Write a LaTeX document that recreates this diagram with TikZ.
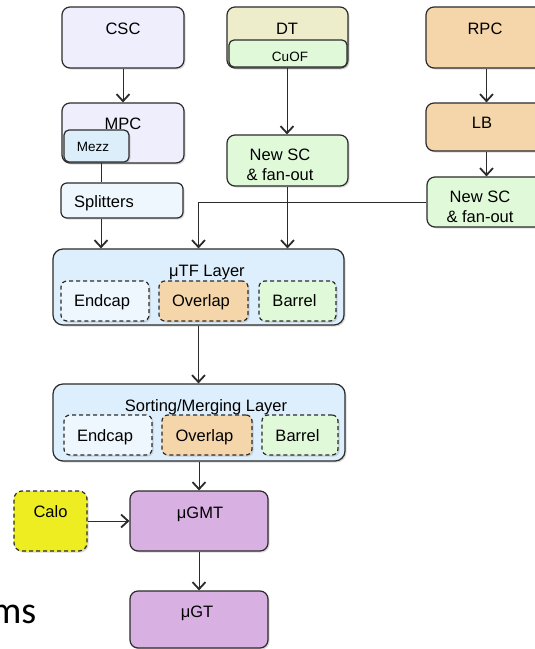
\documentclass[tikz,border=0pt]{standalone}
\usepackage{fontspec}
\setmainfont{Liberation Sans}
\newfontfamily\calibrifont{Carlito}
\usetikzlibrary{arrows.meta,shadows}
\definecolor{lineC}{HTML}{2B2B2B}
\definecolor{cscF}{HTML}{EEEEFD}
\definecolor{mezzF}{HTML}{DDEEFB}
\definecolor{splF}{HTML}{EEF6FE}
\definecolor{dtF}{HTML}{EEEDCB}
\definecolor{grnF}{HTML}{E0F9D9}
\definecolor{orgF}{HTML}{F5D6AA}
\definecolor{layF}{HTML}{DDEEFC}
\definecolor{purF}{HTML}{D8B1E2}
\definecolor{calF}{HTML}{EDED22}
\tikzset{
  box/.style={draw=lineC, line width=1.2pt, rounded corners=8pt, inner sep=0pt,
    drop shadow={shadow xshift=1.5pt, shadow yshift=-1.5pt, opacity=0.28}},
  inbox/.style={box, dash pattern=on 4pt off 3pt, rounded corners=6pt},
  txt/.style={inner sep=0pt, font=\fontsize{16.5}{20}\selectfont, text height=12pt, text depth=0pt},
  twoline/.style={inner sep=0pt, font=\fontsize{16.5}{20}\selectfont, align=center},
  smalltxt/.style={inner sep=0pt, font=\fontsize{13.5}{16}\selectfont, text height=9.8pt, text depth=0pt},
  arr/.style={draw=lineC, line width=1pt, -{Straight Barb[length=7pt,width=13pt,line width=1.8pt]}},
  link/.style={draw=lineC, line width=1pt}
}
\begin{document}
\begin{tikzpicture}[x=1pt,y=-1pt]
\useasboundingbox (0,0) rectangle (535,649);
\clip (0,0) rectangle (535,649);
\fill[white] (0,0) rectangle (535,649);

% CSC column
\node[box, fill=cscF, minimum width=122pt, minimum height=61pt] (csc) at (123,37.5) {};
\node[txt] (csct) at (123,28) {CSC};
\node[box, fill=cscF, minimum width=122pt, minimum height=60pt] (mpc) at (123,133) {};
\node[txt] (mpct) at (123,123) {MPC};
\node[box, fill=mezzF, rounded corners=5pt, minimum width=65pt, minimum height=32pt] (mezz) at (96.5,146) {};
\node[smalltxt] (mezzt) at (93,147) {Mezz};
\node[box, fill=splF, rounded corners=6pt, minimum width=122pt, minimum height=35pt] (spl) at (122,200.5) {};
\node[txt] (splt) at (104,201) {Splitters};

% DT column
\node[box, fill=dtF, minimum width=121pt, minimum height=61pt] (dt) at (287.5,37.5) {};
\node[txt] (dtt) at (287,28) {DT};
\node[box, fill=grnF, rounded corners=5pt, minimum width=118pt, minimum height=27pt] (cuof) at (288,53.5) {};
\node[smalltxt] (cuoft) at (290,57) {CuOF};
\node[box, fill=grnF, minimum width=121pt, minimum height=51pt] (nsc1) at (287.5,160.5) {};
\node[twoline] (nsc1t) at (280,165) {New SC\\\& fan-out};

% RPC column
\node[box, fill=orgF, minimum width=121pt, minimum height=61pt] (rpc) at (486.5,37.5) {};
\node[txt] (rpct) at (485,28) {RPC};
\node[box, fill=orgF, minimum width=121pt, minimum height=48pt] (lb) at (486.5,127) {};
\node[txt] (lbt) at (482,122) {LB};
\node[box, fill=grnF, minimum width=121pt, minimum height=50pt] (nsc2) at (487.5,202) {};
\node[twoline] (nsc2t) at (480,206.5) {New SC\\\& fan-out};

% muTF layer
\node[box, fill=layF, rounded corners=10pt, minimum width=291pt, minimum height=76pt] (utf) at (198.5,287) {};
\node[txt] (utft) at (207,270) {μTF Layer};
\node[inbox, fill=splF, minimum width=88pt, minimum height=40pt] (e1) at (105,301) {};
\node[txt] (e1t) at (102,300) {Endcap};
\node[inbox, fill=orgF, minimum width=89pt, minimum height=40pt] (o1) at (203.5,301) {};
\node[txt] (o1t) at (201,300) {Overlap};
\node[inbox, fill=grnF, minimum width=77pt, minimum height=40pt] (b1) at (297.5,301) {};
\node[txt] (b1t) at (294.5,300) {Barrel};

% Sorting / merging layer
\node[box, fill=layF, rounded corners=10pt, minimum width=292pt, minimum height=77pt] (sort) at (199,422.5) {};
\node[txt] (sortt) at (206,405) {Sorting/Merging Layer};
\node[inbox, fill=splF, minimum width=88pt, minimum height=40pt] (e2) at (108,435) {};
\node[txt] (e2t) at (105,435) {Endcap};
\node[inbox, fill=orgF, minimum width=90pt, minimum height=40pt] (o2) at (207,435) {};
\node[txt] (o2t) at (204.5,435) {Overlap};
\node[inbox, fill=grnF, minimum width=76pt, minimum height=40pt] (b2) at (300,435) {};
\node[txt] (b2t) at (297.5,435) {Barrel};

% bottom
\node[inbox, fill=calF, rounded corners=8pt, minimum width=73pt, minimum height=60pt] (calo) at (50.5,521) {};
\node[txt] (calot) at (50.5,511) {Calo};
\node[box, fill=purF, minimum width=138pt, minimum height=60pt] (ugmt) at (199,521) {};
\node[txt] (ugmtt) at (200,512) {μGMT};
\node[box, fill=purF, minimum width=138pt, minimum height=57pt] (ugt) at (199,619.5) {};
\node[txt] (ugtt) at (197,611) {μGT};

\node[anchor=base east, inner sep=0pt, font=\calibrifont\fontsize{38}{38}\selectfont] (ms) at (36.5,623) {ms};

% connectors
\draw[arr] (csc.south) -- (mpc.north);
\draw[link] ([xshift=4.5pt]mezz.south) -- ([xshift=4.5pt]mezz.south |- spl.north);
\draw[arr] ([xshift=-21pt]spl.south) -- ([xshift=-21pt]spl.south |- utf.north);
\draw[arr] ([xshift=-1pt]cuof.south) -- ([xshift=-1pt]cuof.south |- nsc1.north);
\draw[arr] (nsc1.south) -- (nsc1.south |- utf.north);
\draw[arr] (rpc.south) -- (lb.north);
\draw[arr] (lb.south) -- (lb.south |- nsc2.north);
\draw[arr] (nsc2.west) -| (utf.north);
\draw[arr] (utf.south) -- (utf.south |- sort.north);
\draw[arr] (sort.south) -- (ugmt.north);
\draw[arr] (calo.east) -- (ugmt.west);
\draw[arr] (ugmt.south) -- (ugt.north);
\end{tikzpicture}
\end{document}
